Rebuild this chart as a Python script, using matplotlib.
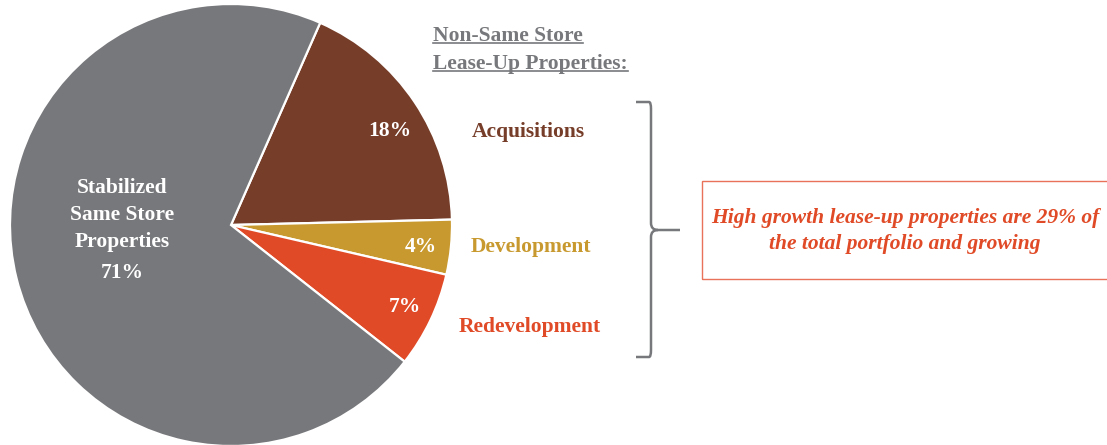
import matplotlib
matplotlib.use("Agg")
import matplotlib.pyplot as plt
from matplotlib.patches import Rectangle, PathPatch
from matplotlib.path import Path

categories = ["Acquisitions", "Development", "Redevelopment", "Stabilized Same Store Properties"]
values = [18, 4, 7, 71]
colors = ["#763D29", "#C8992E", "#E04A26", "#77787B"]
header_lines = ["Non-Same Store", "Lease-Up Properties:"]
callout = "High growth lease-up properties are 29% of\nthe total portfolio and growing"

W, H = 1107, 445
fig = plt.figure(figsize=(W / 100, H / 100), dpi=100)
ax = fig.add_axes([0, 0, 1, 1])
FONT = "Liberation Serif"
FS = 15.5

def Y(py):
    return H - py

cx, cy, R = 231, Y(225), 221
wedges, _ = ax.pie(values, colors=colors, startangle=66.2, counterclock=False,
                   center=(cx, cy), radius=R, frame=True,
                   wedgeprops=dict(edgecolor="white", linewidth=1.6))
ax.set_xlim(0, W)
ax.set_ylim(0, H)
ax.set_aspect("equal")
ax.axis("off")

# percentage labels inside the small wedges
pct_pos = [(390, 131), (421, 247), (405, 307)]
for (px, py), v in zip(pct_pos, values[:3]):
    ax.text(px, Y(py), f"{v}%", ha="center", va="center", color="white",
            fontsize=FS, fontweight="bold", family=FONT)

# big wedge label
ax.text(122, Y(215), "Stabilized\nSame Store\nProperties", ha="center", va="center",
        color="white", fontsize=FS, fontweight="bold", family=FONT, linespacing=1.45)
ax.text(122, Y(273), f"{values[3]}%", ha="center", va="center",
        color="white", fontsize=FS, fontweight="bold", family=FONT)

# category labels at right
label_pos = [(528, 132), (531, 247), (530, 327)]
for (px, py), name, c in zip(label_pos, categories[:3], colors[:3]):
    ax.text(px, Y(py), name, ha="center", va="center", color=c, fontsize=FS,
            fontweight="bold", family=FONT)

# header with underline
fig.canvas.draw()
renderer = fig.canvas.get_renderer()
for i, line in enumerate(header_lines):
    base = 41 + 28 * i
    t = ax.text(433, Y(base), line, ha="left", va="baseline", color="#77787B",
                fontsize=FS, fontweight="bold", family=FONT)
    bb = t.get_window_extent(renderer)
    ax.plot([bb.x0, bb.x1], [Y(base + 2)] * 2, color="#77787B", lw=1.2)

# curly brace
x0, xv, xt = 636, 651, 680
yt, ym, yb = Y(102), Y(230), Y(357)
r = 7
verts = [
    (x0, yt), (xv - 2, yt), (xv, yt), (xv, yt - r),
    (xv, ym + r), (xv, ym), (xv + r, ym),
    (xt, ym), (xv + r, ym),
    (xv, ym), (xv, ym - r),
    (xv, yb + r), (xv, yb), (xv - 2, yb), (x0, yb),
]
codes = [Path.MOVETO, Path.LINETO, Path.CURVE3, Path.CURVE3,
         Path.LINETO, Path.CURVE3, Path.CURVE3,
         Path.LINETO, Path.MOVETO,
         Path.CURVE3, Path.CURVE3,
         Path.LINETO, Path.CURVE3, Path.CURVE3, Path.LINETO]
ax.add_patch(PathPatch(Path(verts, codes), facecolor="none", edgecolor="#77787B",
                       lw=1.8, capstyle="butt"))

# callout box
ax.add_patch(Rectangle((702, Y(279)), 420, 98, facecolor="none",
                       edgecolor="#E8735A", lw=1.0))
ax.text(905, Y(231), callout, ha="center", va="center", color="#E04A26",
        fontsize=FS, fontweight="bold", style="italic", family=FONT, linespacing=1.38)

fig.savefig("out.png", dpi=100)
